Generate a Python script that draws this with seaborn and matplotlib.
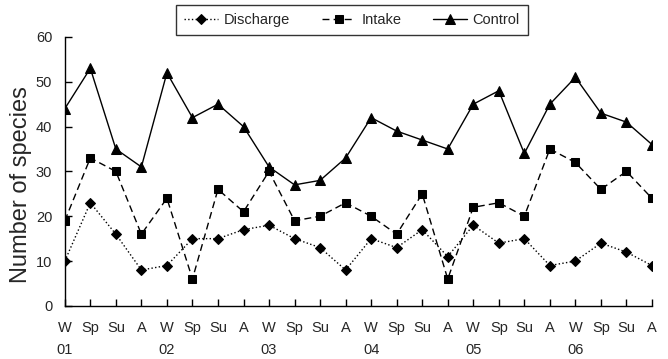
import numpy as np
import pandas as pd
import matplotlib
matplotlib.use("Agg")
import matplotlib.pyplot as plt
import seaborn as sns

# -------------------- Data --------------------
seasons = ["W", "Sp", "Su", "A"] * 6
years = ["01", "02", "03", "04", "05", "06"]

discharge = [10, 23, 16, 8, 9, 15, 15, 17, 18, 15, 13, 8,
             15, 13, 17, 11, 18, 14, 15, 9, 10, 14, 12, 9]
intake = [19, 33, 30, 16, 24, 6, 26, 21, 30, 19, 20, 23,
          20, 16, 25, 6, 22, 23, 20, 35, 32, 26, 30, 24]
control = [44, 53, 35, 31, 52, 42, 45, 40, 31, 27, 28, 33,
           42, 39, 37, 35, 45, 48, 34, 45, 51, 43, 41, 36]

tick_labels = []
for i, s in enumerate(seasons):
    if s == "W":
        tick_labels.append(s + "\n" + years[i // 4])
    else:
        tick_labels.append(s + "\n")

df = pd.DataFrame({"idx": np.arange(len(seasons)),
                   "Discharge": discharge,
                   "Intake": intake,
                   "Control": control})

# -------------------- Plot --------------------
sns.set_style("ticks")
plt.rcParams['font.family'] = ['Liberation Sans', 'DejaVu Sans']

fig = plt.figure(figsize=(6.68, 3.59), dpi=100)
ax = fig.add_axes([0.097, 0.148, 0.879, 0.749])

sns.lineplot(data=df, x="idx", y="Discharge", ax=ax, color="black",
             linestyle=":", linewidth=1.0, marker="D", markersize=5,
             markeredgecolor="black", label="Discharge")
sns.lineplot(data=df, x="idx", y="Intake", ax=ax, color="black",
             linestyle=(0, (5, 3)), linewidth=1.0, marker="s", markersize=6,
             markeredgecolor="black", label="Intake")
sns.lineplot(data=df, x="idx", y="Control", ax=ax, color="black",
             linestyle="-", linewidth=1.0, marker="^", markersize=7,
             markeredgecolor="black", label="Control")

ax.set_xlim(0, len(seasons) - 1)
ax.set_ylim(0, 60)
ax.set_yticks(range(0, 61, 10))
ax.set_xticks(df["idx"])
ax.set_xticklabels(tick_labels, fontsize=10.5, linespacing=1.7)
ax.tick_params(axis="y", labelsize=10.5, pad=9)
ax.tick_params(axis="x", pad=11)
ax.tick_params(direction="in", length=5, width=1, color="black")
ax.set_xlabel("")
ax.set_ylabel("Number of species", fontsize=17)
ax.yaxis.set_label_coords(-0.056, 0.45)
sns.despine(ax=ax)
for sp in ["left", "bottom"]:
    ax.spines[sp].set_color("black")
    ax.spines[sp].set_linewidth(1)

leg = ax.legend(loc="center", bbox_to_anchor=(0.527, 0.945),
                bbox_transform=fig.transFigure, ncol=3, frameon=True,
                fancybox=False, edgecolor="black", fontsize=10.5,
                handlelength=2.3, handletextpad=0.4, columnspacing=2.2,
                borderpad=0.55)
leg.get_frame().set_linewidth(1)

plt.savefig("out.png", dpi=100)
